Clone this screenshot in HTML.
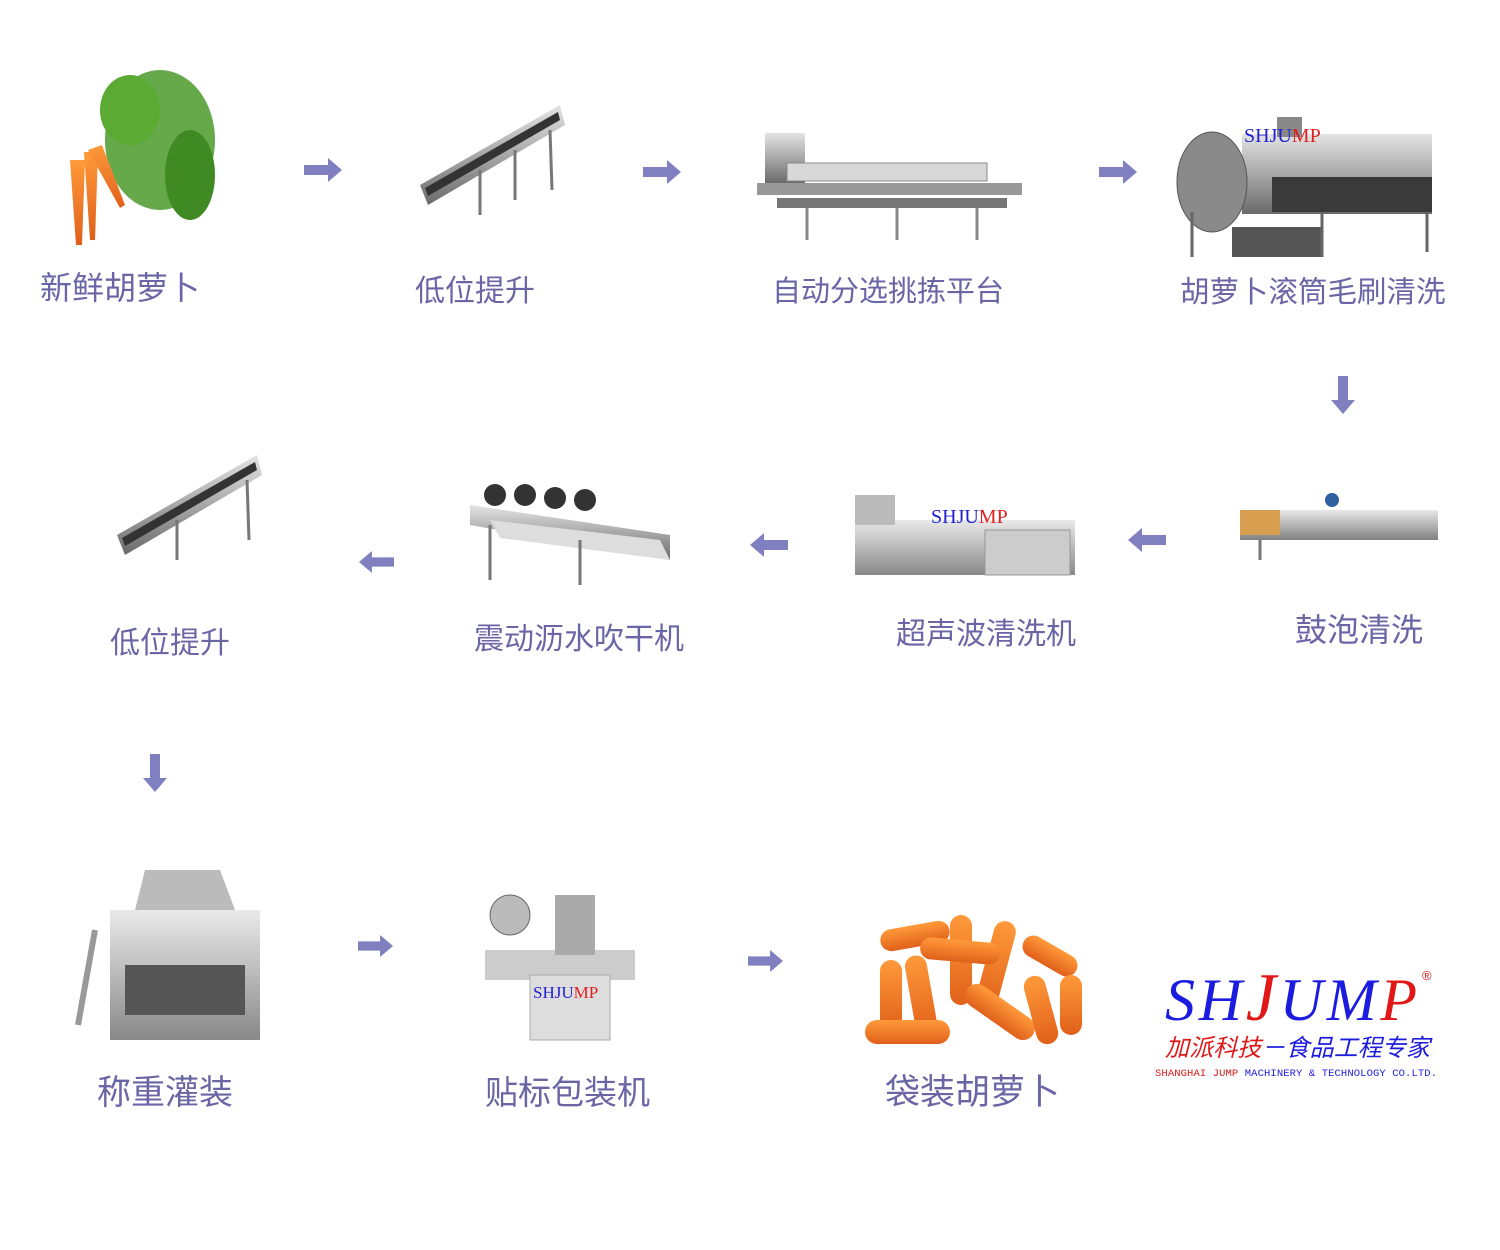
<!DOCTYPE html>
<html><head><meta charset="utf-8"><style>
html,body{margin:0;padding:0;background:#fff;}
#c{position:relative;width:1500px;height:1250px;overflow:hidden;background:#fff;}
.l{position:absolute;font-family:"Liberation Sans","Noto Sans CJK SC",sans-serif;font-size:30px;color:#6a66a6;white-space:nowrap;line-height:1;}
svg{position:absolute;left:0;top:0;}
</style></head><body><div id="c">
<svg width="1500" height="1250" viewBox="0 0 1500 1250">
<defs>
<linearGradient id="m" x1="0" y1="0" x2="0" y2="1"><stop offset="0" stop-color="#e4e4e4"/><stop offset="0.5" stop-color="#a8a8a8"/><stop offset="1" stop-color="#6a6a6a"/></linearGradient>
<linearGradient id="o" x1="0" y1="0" x2="0" y2="1"><stop offset="0" stop-color="#ff9a3a"/><stop offset="1" stop-color="#e0601a"/></linearGradient>
<g id="ar"><polygon points="0,-5 24,-5 24,-12 38,0 24,12 24,5 0,5" fill="#8080c0"/></g>
</defs>
<g>
<ellipse cx="160" cy="140" rx="55" ry="70" fill="#4a9a2a" opacity="0.85"/>
<ellipse cx="130" cy="110" rx="30" ry="35" fill="#5aaa34"/>
<ellipse cx="190" cy="175" rx="25" ry="45" fill="#3f8a22"/>
<polygon points="70,160 85,160 82,245 76,245" fill="url(#o)"/>
<polygon points="84,152 98,152 95,240 90,240" fill="url(#o)"/>
<polygon points="88,150 102,145 125,205 120,208" fill="url(#o)"/>
</g>
<g transform="translate(420,100)">
<polygon points="0,85 140,5 145,25 8,105" fill="url(#m)"/>
<polygon points="5,88 138,12 140,20 8,96" fill="#333"/>
<line x1="60" y1="70" x2="60" y2="115" stroke="#777" stroke-width="3"/>
<line x1="130" y1="30" x2="132" y2="90" stroke="#777" stroke-width="3"/>
<line x1="95" y1="50" x2="95" y2="100" stroke="#777" stroke-width="3"/>
</g>
<g transform="translate(757,128)">
<rect x="8" y="5" width="40" height="50" fill="url(#m)"/>
<rect x="0" y="55" width="265" height="12" fill="#999"/>
<rect x="30" y="35" width="200" height="18" fill="#d8d8d8" stroke="#888"/>
<rect x="20" y="70" width="230" height="10" fill="#777"/>
<g stroke="#888" stroke-width="3"><line x1="50" y1="80" x2="50" y2="112"/><line x1="140" y1="80" x2="140" y2="112"/><line x1="220" y1="80" x2="220" y2="112"/></g>
</g>
<g transform="translate(1172,112)">
<rect x="70" y="22" width="190" height="80" fill="url(#m)"/>
<ellipse cx="40" cy="70" rx="35" ry="50" fill="#8a8a8a" stroke="#555"/>
<rect x="100" y="65" width="160" height="35" fill="#3a3a3a"/>
<rect x="105" y="5" width="25" height="20" fill="#888"/>
<rect x="60" y="115" width="90" height="30" fill="#555"/>
<g stroke="#666" stroke-width="3"><line x1="20" y1="100" x2="20" y2="145"/><line x1="150" y1="100" x2="150" y2="145"/><line x1="255" y1="100" x2="255" y2="140"/></g>
<text x="72" y="30" font-family="Liberation Serif" font-size="20" fill="#2020d0">SHJU<tspan fill="#e02020">MP</tspan></text>
</g>
<g transform="translate(117,450)">
<polygon points="0,85 140,5 145,25 8,105" fill="url(#m)"/>
<polygon points="5,88 138,12 140,20 8,96" fill="#333"/>
<line x1="60" y1="70" x2="60" y2="110" stroke="#777" stroke-width="3"/>
<line x1="130" y1="30" x2="132" y2="90" stroke="#777" stroke-width="3"/>
</g>
<g transform="translate(470,480)">
<polygon points="0,25 200,55 200,80 0,45" fill="url(#m)"/>
<polygon points="20,40 190,60 200,80 30,58" fill="#ddd"/>
<g fill="#333"><circle cx="25" cy="15" r="11"/><circle cx="55" cy="15" r="11"/><circle cx="85" cy="18" r="11"/><circle cx="115" cy="20" r="11"/></g>
<line x1="20" y1="45" x2="20" y2="100" stroke="#777" stroke-width="3"/><line x1="110" y1="60" x2="110" y2="105" stroke="#777" stroke-width="3"/>
</g>
<g transform="translate(845,490)">
<rect x="10" y="30" width="220" height="55" fill="url(#m)" opacity="0.8"/>
<rect x="10" y="5" width="40" height="30" fill="#bbb"/>
<rect x="140" y="40" width="85" height="45" fill="#ccc" stroke="#999"/>
<text x="86" y="33" font-family="Liberation Serif" font-size="20" fill="#2020d0">SHJU<tspan fill="#e02020">MP</tspan></text>
</g>
<g transform="translate(1240,490)">
<rect x="0" y="20" width="198" height="30" fill="url(#m)" opacity="0.85"/>
<rect x="0" y="20" width="40" height="25" fill="#d8a050"/>
<circle cx="92" cy="10" r="7" fill="#3060a0"/>
<line x1="20" y1="50" x2="20" y2="70" stroke="#777" stroke-width="3"/>
</g>
<g transform="translate(70,870)">
<rect x="40" y="40" width="150" height="130" fill="url(#m)" opacity="0.8"/>
<polygon points="75,0 150,0 165,40 65,40" fill="#bbb"/>
<rect x="55" y="95" width="120" height="50" fill="#555"/>
<line x1="25" y1="60" x2="8" y2="155" stroke="#999" stroke-width="6"/>
</g>
<g transform="translate(485,890)">
<rect x="0" y="60" width="150" height="30" fill="#ccc"/>
<rect x="45" y="85" width="80" height="65" fill="#ddd" stroke="#aaa"/>
<circle cx="25" cy="25" r="20" fill="#bbb" stroke="#666"/>
<rect x="70" y="5" width="40" height="60" fill="#aaa"/>
<text x="48" y="108" font-family="Liberation Serif" font-size="17" fill="#2020d0">SHJU<tspan fill="#e02020">MP</tspan></text>
</g>
<g fill="url(#o)">
<rect x="880" y="925" width="70" height="22" rx="11" transform="rotate(-10 915 936)"/>
<rect x="950" y="915" width="22" height="90" rx="11"/>
<rect x="985" y="920" width="22" height="90" rx="11" transform="rotate(15 996 965)"/>
<rect x="1020" y="945" width="60" height="22" rx="11" transform="rotate(30 1050 956)"/>
<rect x="880" y="960" width="22" height="70" rx="11"/>
<rect x="910" y="955" width="22" height="80" rx="11" transform="rotate(-10 921 995)"/>
<rect x="865" y="1020" width="85" height="24" rx="12"/>
<rect x="960" y="1000" width="80" height="24" rx="12" transform="rotate(35 1000 1012)"/>
<rect x="1030" y="975" width="22" height="70" rx="11" transform="rotate(-15 1041 1010)"/>
<rect x="1060" y="975" width="22" height="60" rx="11"/>
<rect x="920" y="940" width="80" height="22" rx="11" transform="rotate(5 960 951)"/>
</g>
<use href="#ar" transform="translate(304,170)"/>
<use href="#ar" transform="translate(643,172)"/>
<use href="#ar" transform="translate(1099,172)"/>
<use href="#ar" transform="translate(1343,376) rotate(90)"/>
<use href="#ar" transform="translate(1166,540) rotate(180)"/>
<use href="#ar" transform="translate(788,545) rotate(180)"/>
<use href="#ar" transform="translate(394,562) scale(0.92) rotate(180)"/>
<use href="#ar" transform="translate(155,754) rotate(90)"/>
<use href="#ar" transform="translate(358,946) scale(0.92)"/>
<use href="#ar" transform="translate(748,961) scale(0.92)"/>
<text x="1165" y="1020" font-family="Liberation Serif" font-style="italic" font-size="60" fill="#1c1ce0" textLength="252">SH<tspan fill="#e01818" font-size="68">J</tspan>UM<tspan fill="#e01818">P</tspan></text>
<text x="1422" y="980" font-family="Liberation Sans" font-size="13" fill="#e01818">®</text>
<text x="1165" y="1056" font-family="Noto Sans CJK SC,sans-serif" font-style="italic" font-size="24" fill="#e01818" textLength="265">加派科技<tspan fill="#1c1ce0">－食品工程专家</tspan></text>
<text x="1155" y="1076" font-family="Liberation Mono" font-size="10.5" fill="#e01818" textLength="282">SHANGHAI JUMP <tspan fill="#1c1ce0">MACHINERY &amp; TECHNOLOGY CO.LTD.</tspan></text>
</svg>
<div class="l" style="left:40px;top:272px;font-size:32px">新鲜胡萝卜</div>
<div class="l" style="left:415px;top:277px">低位提升</div>
<div class="l" style="left:772px;top:278px;font-size:29px">自动分选挑拣平台</div>
<div class="l" style="left:1180px;top:278px;font-size:29.5px">胡萝卜滚筒毛刷清洗</div>
<div class="l" style="left:110px;top:629px">低位提升</div>
<div class="l" style="left:474px;top:625px">震动沥水吹干机</div>
<div class="l" style="left:896px;top:620px">超声波清洗机</div>
<div class="l" style="left:1295px;top:614px;font-size:32px">鼓泡清洗</div>
<div class="l" style="left:97px;top:1076px;font-size:34px">称重灌装</div>
<div class="l" style="left:485px;top:1076px;font-size:33px">贴标包装机</div>
<div class="l" style="left:885px;top:1075px;font-size:35px">袋装胡萝卜</div>
</div></body></html>
